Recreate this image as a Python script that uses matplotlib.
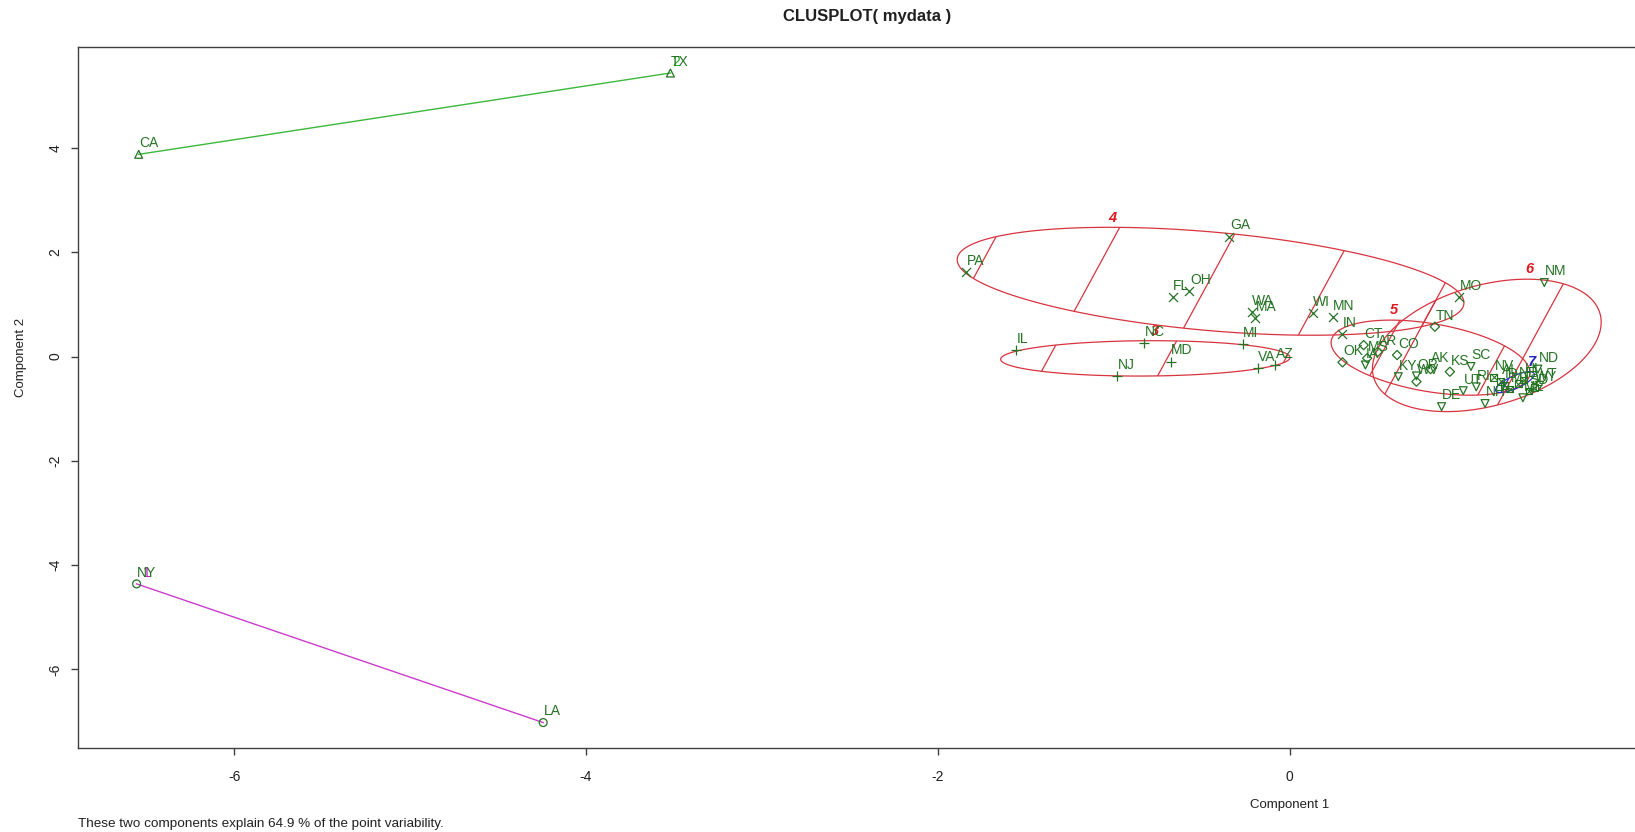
import numpy as np
import matplotlib
matplotlib.use("Agg")
import matplotlib.pyplot as plt
from matplotlib.patches import Polygon
from matplotlib.lines import Line2D
from matplotlib.transforms import Affine2D

plt.rcParams['font.family'] = ['Liberation Sans', 'DejaVu Sans']
plt.rcParams['axes.unicode_minus'] = False

# states with their cluster and scores on the two components
states = ['NY', 'LA',
          'CA', 'TX',
          'IL', 'NC', 'NJ', 'MD', 'MI', 'VA', 'AZ',
          'PA', 'GA', 'FL', 'OH', 'WA', 'MA', 'WI', 'MN', 'IN', 'MO',
          'OK', 'CT', 'AR', 'MS', 'CO', 'TN', 'AK', 'KS', 'WV',
          'NM', 'KY', 'OR', 'SC', 'DE', 'UT', 'IA', 'RI', 'NH', 'ME', 'VT', 'ND',
          'HI', 'NV', 'ID', 'MT', 'NE', 'SD', 'WY', 'AL']
cluster = [1, 1,
           2, 2,
           3, 3, 3, 3, 3, 3, 3,
           4, 4, 4, 4, 4, 4, 4, 4, 4, 4,
           5, 5, 5, 5, 5, 5, 5, 5, 5,
           6, 6, 6, 6, 6, 6, 6, 6, 6, 6, 6, 6,
           7, 7, 7, 7, 7, 7, 7, 7]
comp1 = [-6.554, -4.243,
         -6.542, -3.52,
         -1.556, -0.829, -0.980, -0.677, -0.268, -0.183, -0.084,
         -1.84, -0.344, -0.666, -0.571, -0.217, -0.198, 0.130, 0.244, 0.295, 0.963,
         0.30, 0.42, 0.50, 0.44, 0.61, 0.825, 0.80, 0.91, 0.72,
         1.447, 0.617, 0.72, 1.03, 0.863, 0.986, 0.43, 1.06, 1.11, 1.325, 1.42, 1.41,
         1.33, 1.16, 1.22, 1.25, 1.30, 1.36, 1.39, 1.20]
comp2 = [-4.36, -7.02,
         3.88, 5.44,
         0.127, 0.267, -0.372, -0.097, 0.242, -0.225, -0.161,
         1.62, 2.301, 1.149, 1.264, 0.862, 0.734, 0.830, 0.753, 0.433, 1.137,
         -0.11, 0.22, 0.09, -0.03, 0.03, 0.574, -0.24, -0.29, -0.48,
         1.42, -0.385, -0.37, -0.19, -0.96, -0.654, -0.16, -0.58, -0.90, -0.79, -0.55, -0.24,
         -0.45, -0.40, -0.55, -0.62, -0.52, -0.66, -0.60, -0.47]

# spanning ellipses: centre, half width, half height, tilt (sin of phase)
ell_cluster = [3, 4, 5, 6, 7]
ell_cx = [-0.821, -0.45, 0.80, 1.12, 1.28]
ell_cy = [-0.034, 1.445, -0.02, 0.215, -0.49]
ell_w = [0.822, 1.44, 0.565, 0.65, 0.11]
ell_h = [0.339, 1.035, 0.72, 1.27, 0.20]
ell_tilt = [0.05, -0.40, -0.40, 0.35, 0.75]
ell_hatch = [104.2, 104.2, 104.2, 104.2, 26.0]
ell_hatch0 = [50.5, 50.5, 28.4, 50.5, 50.5]

clus_col = {1: '#cc3ccc', 2: '#3cb83c', 3: '#d8343f', 4: '#d8343f',
            5: '#d8343f', 6: '#d8343f', 7: '#2b2bd0'}
lab_col = {1: '#c020c0', 2: '#20b020', 3: '#e0191f', 4: '#e0191f',
           5: '#e0191f', 6: '#e0191f', 7: '#2020c0'}
markers = {1: 'o', 2: '^', 3: '+', 4: 'x', 5: 'D', 6: 'v', 7: 's'}
pt_col = '#247324'

W, H = 1635, 832
fig = plt.figure(figsize=(W / 100, H / 100), dpi=100)
ax = fig.add_axes([78 / W, 1 - 748 / H, 1602 / W, 701 / H])
ax.set_xlim(-6.887, 2.218)
ax.set_ylim(-7.508, 5.939)

comp1 = np.array(comp1)
comp2 = np.array(comp2)
cluster = np.array(cluster)

# image pixel coords -> display coords (for the shading lines)
pix = Affine2D().scale(1, -1).translate(0, H)
ang = np.deg2rad(61.5)
nx, ny = np.sin(ang), np.cos(ang)

t = np.linspace(0, 2 * np.pi, 300)
for c, cx, cy, w, h, s, sp, d0 in zip(ell_cluster, ell_cx, ell_cy, ell_w, ell_h,
                                      ell_tilt, ell_hatch, ell_hatch0):
    phi = np.arcsin(s)
    ex = cx + w * np.cos(t)
    ey = cy + h * np.sin(t + phi)
    poly = Polygon(np.column_stack([ex, ey]), closed=True, fill=False,
                   edgecolor=clus_col[c], lw=0.9)
    ax.add_patch(poly)
    # shading lines
    for k in range(-5, 80):
        d = d0 + k * sp
        Y = np.array([-100.0, 1000.0])
        X = (d - ny * Y) / nx
        ln = Line2D(X, Y, transform=pix, color=clus_col[c], lw=0.9)
        ax.add_line(ln)
        ln.set_clip_path(poly)
    ax.annotate(str(c), (cx + w * s, cy + h), xytext=(2, 7), textcoords='offset points',
                ha='center', va='center', color=lab_col[c], fontsize=10.5,
                fontweight='bold', fontstyle='italic')

# two-point clusters are drawn as segments
for c, dx in [(1, 7), (2, 4)]:
    m = cluster == c
    ax.plot(comp1[m], comp2[m], color=clus_col[c], lw=1.0)
    i = np.argmax(np.where(m, comp2, -np.inf))
    ax.annotate(str(c), (comp1[i], comp2[i]), xytext=(dx, 8), textcoords='offset points',
                ha='center', va='center', color=lab_col[c], fontsize=10)

for c in range(1, 8):
    m = cluster == c
    if c in (3, 4):
        ax.scatter(comp1[m], comp2[m], marker=markers[c], s=42, color=pt_col, lw=0.9, zorder=3)
    elif c == 7:
        ax.scatter(comp1[m], comp2[m], marker='s', s=24, facecolors='none', edgecolors=pt_col, lw=0.8, zorder=3)
        ax.scatter(comp1[m], comp2[m], marker='x', s=24, color=pt_col, lw=0.8, zorder=3)
    else:
        ax.scatter(comp1[m], comp2[m], marker=markers[c], s=32 if c != 5 else 22,
                   facecolors='none', edgecolors=pt_col, lw=0.9, zorder=3)

for name, x, y in zip(states, comp1, comp2):
    ax.annotate(name, (x, y), xytext=(0.5, 3), textcoords='offset points',
                ha='left', va='bottom', color=pt_col, fontsize=10)

ax.set_xticks([-6, -4, -2, 0])
ax.set_yticks([-6, -4, -2, 0, 2, 4])
ax.tick_params(axis='both', direction='out', length=5, width=1, color='#404040',
               labelsize=10, labelcolor='#202020')
ax.tick_params(axis='x', pad=11)
ax.tick_params(axis='y', pad=6, labelrotation=90)
for lbl in ax.get_yticklabels():
    lbl.set_va('center')
for sp_ in ax.spines.values():
    sp_.set_color('#404040')
    sp_.set_linewidth(1.0)

fig.text(867 / W, 1 - 17 / H, 'CLUSPLOT( mydata )', ha='center', va='center',
         fontsize=12, fontweight='bold', color='#202020')
fig.text(1290 / W, 1 - 805 / H, 'Component 1', ha='center', va='center', fontsize=9.5, color='#202020')
fig.text(21 / W, 1 - 357 / H, 'Component 2', ha='center', va='center', rotation=90,
         fontsize=9.5, color='#202020')
fig.text(78 / W, 1 - 824 / H, 'These two components explain 64.9 % of the point variability.',
         ha='left', va='center', fontsize=9.7, color='#202020')

fig.savefig('out.png', dpi=100)
